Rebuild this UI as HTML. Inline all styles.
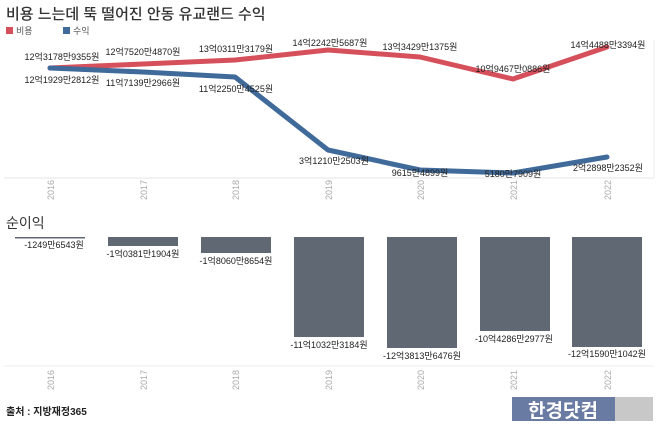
<!DOCTYPE html>
<html><head><meta charset="utf-8"><style>
body{margin:0;background:#fff;}
svg text{font-family:"Liberation Sans","Noto Sans CJK KR",sans-serif;}
</style></head><body>
<svg width="658" height="427" viewBox="0 0 658 427" xmlns="http://www.w3.org/2000/svg">
<rect width="658" height="427" fill="#fff"/>
<text x="6" y="19" font-size="15" font-weight="500" fill="#333">비용 느는데 뚝 떨어진 안동 유교랜드 수익</text>
<rect x="6" y="27" width="7" height="7" fill="#d6505c"/><text x="16" y="34" font-size="9" fill="#555">비용</text>
<rect x="63" y="27" width="7" height="7" fill="#3f6a9a"/><text x="73" y="34" font-size="9" fill="#555">수익</text>
<line x1="4" y1="178" x2="654" y2="178" stroke="#e4e4e4"/>
<line x1="654" y1="40" x2="654" y2="178" stroke="#eee"/>
<polyline points="50,68 143,64 235,60 328,50 420,57 513,79 607,47" fill="none" stroke="#d6505c" stroke-width="5" stroke-linejoin="round" stroke-linecap="round"/>
<polyline points="50,68 143,72 235,77 328,150 420,170 513,173 607,157" fill="none" stroke="#3f6a9a" stroke-width="5" stroke-linejoin="round" stroke-linecap="round"/>
<g font-size="9" fill="#222" text-anchor="middle">
<text x="62" y="60">12억3178만9355원</text>
<text x="143" y="55">12억7520만4870원</text>
<text x="236" y="52">13억0311만3179원</text>
<text x="330" y="46">14억2242만5687원</text>
<text x="420" y="50">13억3429만1375원</text>
<text x="513" y="72">10억9467만0886원</text>
<text x="608" y="48">14억4488만3394원</text>
<text x="62" y="83">12억1929만2812원</text>
<text x="143" y="86">11억7139만2966원</text>
<text x="236" y="92">11억2250만4525원</text>
<text x="334" y="164">3억1210만2503원</text>
<text x="420" y="176">9615만4899원</text>
<text x="513" y="177">5180만7909원</text>
<text x="608" y="171">2억2898만2352원</text>
</g>
<g font-size="9" fill="#aaa">
<text transform="translate(54,200) rotate(-90)">2016</text>
<text transform="translate(147,200) rotate(-90)">2017</text>
<text transform="translate(239,200) rotate(-90)">2018</text>
<text transform="translate(332,200) rotate(-90)">2019</text>
<text transform="translate(424,200) rotate(-90)">2020</text>
<text transform="translate(517,200) rotate(-90)">2021</text>
<text transform="translate(611,200) rotate(-90)">2022</text>
<text transform="translate(54,390) rotate(-90)">2016</text>
<text transform="translate(147,390) rotate(-90)">2017</text>
<text transform="translate(239,390) rotate(-90)">2018</text>
<text transform="translate(332,390) rotate(-90)">2019</text>
<text transform="translate(424,390) rotate(-90)">2020</text>
<text transform="translate(517,390) rotate(-90)">2021</text>
<text transform="translate(611,390) rotate(-90)">2022</text>
</g>
<text x="6" y="228" font-size="14" fill="#333">순이익</text>
<line x1="4" y1="366" x2="654" y2="366" stroke="#eee"/>
<g fill="#5f6873">
<rect x="15" y="237" width="70" height="1.5"/>
<rect x="108" y="237" width="70" height="9"/>
<rect x="201" y="237" width="70" height="16"/>
<rect x="294" y="237" width="70" height="100"/>
<rect x="387" y="237" width="70" height="111"/>
<rect x="480" y="237" width="70" height="94"/>
<rect x="572" y="237" width="70" height="110"/>
</g>
<g font-size="9" fill="#222" text-anchor="middle">
<text x="54" y="248">-1249만6543원</text>
<text x="143" y="257">-1억0381만1904원</text>
<text x="236" y="264">-1억8060만8654원</text>
<text x="329" y="348">-11억1032만3184원</text>
<text x="422" y="359">-12억3813만6476원</text>
<text x="514" y="342">-10억4286만2977원</text>
<text x="607" y="357">-12억1590만1042원</text>
</g>
<text x="6" y="415" font-size="10" font-weight="bold" fill="#222">출처 : 지방재정365</text>
<rect x="512" y="397" width="103" height="24" fill="#6a7ba3"/>
<rect x="615" y="397" width="38" height="24" fill="#c8c8c8"/>
<text x="563" y="417" font-size="19" font-weight="bold" fill="#fff" text-anchor="middle">한경닷컴</text>
</svg>
</body></html>
